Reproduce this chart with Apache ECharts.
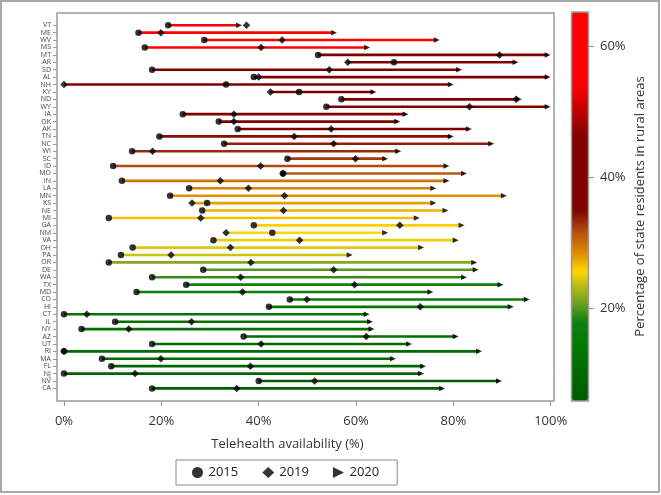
<!DOCTYPE html>
<html><head><meta charset="utf-8">
<script src="https://cdn.jsdelivr.net/npm/echarts@6/dist/echarts.min.js"></script>
<style>html,body{margin:0;padding:0;background:#fff}#c{width:661px;height:495px}</style>
</head><body><div id="c"></div>
<script>
// ---- data ----
const states = ['VT','ME','WV','MS','MT','AR','SD','AL','NH','KY','ND','WY','IA','OK','AK','TN','NC','WI','SC','ID','MO','IN','LA','MN','KS','NE','MI','GA','NM','VA','OH','PA','OR','DE','WA','TX','MD','CO','HI','CT','IL','NY','AZ','UT','RI','MA','FL','NJ','NV','CA'];
const y2015 = [21.4,15.3,28.8,16.6,52.2,67.8,18.1,39.0,33.3,48.3,57.0,53.9,24.4,31.8,35.7,19.6,32.9,14.0,45.9,10.1,45.0,11.9,25.7,21.8,29.4,28.4,9.2,39.0,42.8,30.7,14.1,11.7,9.2,28.6,18.1,25.1,14.9,46.4,42.1,0,10.5,3.6,36.9,18.1,0,7.8,9.7,0,40.0,18.1];
const y2019 = [37.5,19.9,44.8,40.5,89.5,58.3,54.5,40.0,0,42.4,92.9,83.3,34.9,34.9,54.9,47.3,55.4,18.2,59.9,40.4,45.0,32.1,37.9,45.3,26.3,45.1,28.1,69.0,33.3,48.4,34.2,22.0,38.4,55.4,36.3,59.7,36.7,49.9,73.2,4.7,26.2,13.3,62.1,40.5,0,19.9,38.3,14.6,51.5,35.5];
const y2020 = [36.6,56.1,77.2,62.9,100,93.4,81.8,100,80.1,64.2,94.1,100,70.8,69.1,83.8,80.1,88.4,69.3,66.6,79.2,82.8,79.2,76.5,91.0,76.5,79.0,73.1,82.3,66.6,81.1,74.0,59.3,84.9,85.2,82.8,90.3,75.9,95.7,92.4,62.8,63.5,63.8,81.1,71.5,85.9,68.2,74.4,74.0,90.0,78.3];
const rural = [62,60,57,55,45,44,43,42,41,40,39,38,37,36.5,35.5,34.5,33.8,33.2,32.5,31.8,31,29.5,28.8,28.2,27.6,27,26.5,25.9,25.5,25,24.5,24,21.5,20,19,18,16.5,15.5,14.5,13.5,12.5,12,11.5,11,10.5,10,9.5,8,7,6];
const xTicks = [0,20,40,60,80,100];
const ruralTicks = [20,40,60];
const ruralMin = 5.8, ruralMax = 65.2;

// ---- colour ramp of the colour bar ----
const stops = [[5.8,'#005a00'],[14,'#007800'],[18,'#108010'],[20.6,'#6aa020'],[23.1,'#b0b818'],[25.6,'#ffd700'],[28.2,'#e09000'],[31.8,'#b04a10'],[35,'#800000'],[46,'#800000'],[50,'#c00000'],[54,'#ff0000'],[65.2,'#ff0000']];
function hex2rgb(h){return [parseInt(h.substr(1,2),16),parseInt(h.substr(3,2),16),parseInt(h.substr(5,2),16)];}
function colorAt(v){
  for(let i=0;i<stops.length-1;i++){
    const a=stops[i],b=stops[i+1];
    if(v<=b[0]){const t=(v-a[0])/(b[0]-a[0]);const c1=hex2rgb(a[1]),c2=hex2rgb(b[1]);
      return 'rgb('+c1.map((c,k)=>Math.round(c+(c2[k]-c)*t)).join(',')+')';}
  }
  return stops[stops.length-1][1];
}
const ramp=[];const N=150;
for(let i=0;i<=N;i++){ramp.push(colorAt(ruralMin+(ruralMax-ruralMin)*i/N));}

const idx = states.map((s,i)=>i);
const rangeData = idx.map(i=>[Math.min(y2015[i],y2019[i]), y2020[i], i, rural[i]]);
const FONT = 'Open Sans';

const chart = echarts.init(document.getElementById('c'), null, {renderer:'canvas'});
chart.setOption({
  animation:false,
  textStyle:{fontFamily:FONT},
  grid:[
    {left:57, top:13, width:497, height:388, show:true, borderColor:'#9a9a9a', borderWidth:1.5, containLabel:false},
    {left:572, top:12, width:16, height:389, show:false}
  ],
  xAxis:[
    {gridIndex:0, type:'value', min:-1.44, max:100.68, position:'bottom',
     name:'Telehealth availability (%)', nameLocation:'middle', nameGap:37,
     nameTextStyle:{fontSize:13, color:'#333', padding:[0,36,0,0], fontFamily:FONT},
     axisLine:{show:false, onZero:false}, splitLine:{show:false},
     axisTick:{show:true, length:5, lineStyle:{color:'#9a9a9a', width:1.2}, customValues:xTicks},
     axisLabel:{fontSize:13, color:'#333', margin:14, customValues:xTicks, formatter:v=>Math.round(v)+'%', fontFamily:FONT}},
    {gridIndex:1, type:'value', show:false, min:0, max:1}
  ],
  yAxis:[
    {gridIndex:0, type:'value', inverse:true, min:-1.65, max:50.7, position:'left',
     axisLine:{show:false, onZero:false}, splitLine:{show:false},
     axisTick:{show:true, length:4, lineStyle:{color:'#9a9a9a'}, customValues:idx},
     axisLabel:{fontSize:7, color:'#444', margin:6, customValues:idx, formatter:v=>states[Math.round(v)], fontFamily:FONT}},
    {gridIndex:1, type:'value', position:'right', min:ruralMin, max:ruralMax,
     name:'Percentage of state residents in rural areas', nameLocation:'middle', nameRotate:90, nameGap:46,
     nameTextStyle:{fontSize:13, color:'#333', fontFamily:FONT},
     axisLine:{show:false, onZero:false}, splitLine:{show:false},
     axisTick:{show:true, length:6, lineStyle:{color:'#9a9a9a', width:1.2}, customValues:ruralTicks},
     axisLabel:{fontSize:13, color:'#333', margin:12, customValues:ruralTicks, formatter:v=>Math.round(v)+'%', fontFamily:FONT}}
  ],
  visualMap:{
    type:'continuous', min:ruralMin, max:ruralMax, dimension:3, seriesIndex:0,
    left:572, top:12, itemWidth:16, itemHeight:389, padding:0,
    calculable:false, hoverLink:false, text:null, showLabel:false,
    inRange:{color:ramp}
  },
  legend:{
    data:[{name:'2015',icon:'circle'},{name:'2019',icon:'diamond'},{name:'2020',icon:'path://M0,0L10,5L0,10Z'}],
    left:176, top:460, orient:'horizontal',
    itemWidth:12, itemHeight:11, itemGap:24,
    padding:[6,18,6,16], borderColor:'#8a8a8a', borderWidth:1,
    textStyle:{fontSize:13, color:'#222', fontFamily:FONT}
  },
  graphic:[
    {type:'rect', shape:{x:571.5, y:12, width:17, height:389}, style:{fill:null, stroke:'#9a9a9a', lineWidth:1.5}, z:100, silent:true},
    {type:'rect', shape:{x:1, y:1, width:658, height:491}, style:{fill:null, stroke:'#a8a8a8', lineWidth:2}, z:100, silent:true}
  ],
  series:[
    {type:'custom', name:'range', xAxisIndex:0, yAxisIndex:0, data:rangeData,
     encode:{x:[0,1], y:2},
     renderItem:function(params, api){
       const row = api.value(2);
       const p1 = api.coord([api.value(0), row]);
       const p2 = api.coord([api.value(1), row]);
       return {type:'line', shape:{x1:p1[0], y1:p1[1], x2:p2[0]-3, y2:p2[1]},
               style:{stroke:api.visual('color'), lineWidth:2.6}};
     }, z:1},
    {type:'scatter', name:'2015', symbol:'circle', symbolSize:6.5, itemStyle:{color:'#000'},
     data:idx.map(i=>[y2015[i], i]), z:3},
    {type:'scatter', name:'2019', symbol:'diamond', symbolSize:7.5, itemStyle:{color:'#000'},
     data:idx.map(i=>[y2019[i], i]), z:4},
    {type:'scatter', name:'2020', symbol:'path://M0,0L10,5L0,10Z', symbolSize:[6,5.5], symbolOffset:[-3,0], itemStyle:{color:'#000'},
     data:idx.map(i=>[y2020[i], i]), z:5}
  ]
});
</script></body></html>
